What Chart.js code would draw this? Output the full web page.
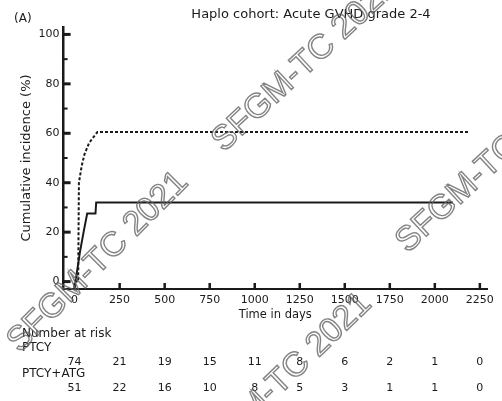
<!DOCTYPE html>
<html>
<head>
<meta charset="utf-8">
<script src="https://cdn.jsdelivr.net/npm/chart.js@4.4.0/dist/chart.umd.min.js"></script>
<style>
    html, body { margin: 0; padding: 0; background: #fff; }
    #wrap { width: 502px; height: 401px; }
</style>
</head>
<body>
<div id="wrap"><canvas id="gvhdChart" width="502" height="401"></canvas></div>
<script>
// Courbes d'incidence cumulée (jours / %)
const daysPtcy = [0, 20, 22, 24, 40, 55, 80, 100, 127, 2195];
const incPtcy = [0, 0, 20, 40, 47, 51.5, 56, 58, 60.5, 60.5];
const daysAtg = [0, 5, 30, 50, 70, 116, 120, 2100];
const incAtg = [0, 0, 12, 20, 27.5, 27.5, 32, 32];

// Graduations
const xTicks = [0, 250, 500, 750, 1000, 1250, 1500, 1750, 2000, 2250];
const yTicks = [0, 10, 20, 30, 40, 50, 60, 70, 80, 90, 100];

// Nombre de patients à risque
const riskPtcy = [74, 21, 19, 15, 11, 8, 6, 2, 1, 0];
const riskAtg = [51, 22, 16, 10, 8, 5, 3, 1, 1, 0];

const FONT = '"DejaVu Sans", Verdana, sans-serif';
const INK = '#1a1a1a';

// Petits traits vers l'intérieur, titre, tableau et filigrane
const extrasPlugin = {
    id: 'extras',
    afterDraw(chart) {
        const ctx = chart.ctx;
        const xS = chart.scales.x;
        const yS = chart.scales.y;
        ctx.save();
        ctx.fillStyle = INK;

        yS.ticks.forEach(t => {
            const py = yS.getPixelForValue(t.value);
            const major = t.value % 20 === 0;
            ctx.fillRect(yS.right - 1, py - (major ? 1.5 : 1), major ? 8 : 5, major ? 3 : 2);
        });
        xS.ticks.forEach(t => {
            const px = xS.getPixelForValue(t.value);
            ctx.fillRect(px - 1.2, xS.top - 6, 2.5, 6);
        });

        ctx.textBaseline = 'middle';
        ctx.textAlign = 'center';
        ctx.font = '13px ' + FONT;
        ctx.fillText('Haplo cohort: Acute GVHD grade 2-4', 311, 15);
        ctx.textAlign = 'left';
        ctx.font = '12px ' + FONT;
        ctx.fillText('(A)', 14, 19);

        ctx.fillText('Number at risk', 22, 334);
        ctx.fillText('PTCY', 22, 348);
        ctx.fillText('PTCY+ATG', 22, 374);
        ctx.font = '11px ' + FONT;
        ctx.textAlign = 'center';
        xTicks.forEach((v, i) => {
            const px = xS.getPixelForValue(v);
            ctx.fillText(String(riskPtcy[i]), px, 362);
            ctx.fillText(String(riskAtg[i]), px, 388);
        });

        // filigrane
        ctx.strokeStyle = 'rgba(100,100,100,0.8)';
        ctx.lineWidth = 1.4;
        ctx.font = '34px "Liberation Sans", Arial, sans-serif';
        ctx.textAlign = 'center';
        [[98, 262, -45], [305, 64, -43], [280, 382, -44], [489, 165, -43]].forEach(([cx, cy, a]) => {
            ctx.save();
            ctx.translate(cx, cy);
            ctx.rotate(a * Math.PI / 180);
            ctx.strokeText('SFGM-TC 2021', 0, 0);
            ctx.restore();
        });
        ctx.restore();
    }
};

const ctxGvhd = document.getElementById('gvhdChart').getContext('2d');
const gvhdChart = new Chart(ctxGvhd, {
    type: 'line',
    data: {
        datasets: [
            {
                label: 'PTCY',
                data: daysPtcy.map((d, i) => ({ x: d, y: incPtcy[i] })),
                borderColor: INK,
                borderWidth: 2,
                borderDash: [3, 2],
                pointRadius: 0,
                tension: 0
            },
            {
                label: 'PTCY+ATG',
                data: daysAtg.map((d, i) => ({ x: d, y: incAtg[i] })),
                borderColor: INK,
                borderWidth: 2,
                pointRadius: 0,
                tension: 0
            }
        ]
    },
    options: {
        responsive: false,
        animation: false,
        layout: { padding: { left: 19, right: 15, top: 27, bottom: 75 } },
        plugins: {
            legend: { display: false },
            title: { display: false },
            tooltip: { enabled: false }
        },
        scales: {
            x: {
                type: 'linear',
                min: -61,
                max: 2290,
                afterBuildTicks: s => { s.ticks = xTicks.map(v => ({ value: v })); },
                grid: { display: false, drawTicks: false },
                border: { display: true, color: INK, width: 2 },
                ticks: {
                    color: INK,
                    font: { family: FONT, size: 11 },
                    padding: 5,
                    maxRotation: 0,
                    autoSkip: false,
                    callback: v => String(v)
                },
                title: { display: true, text: 'Time in days', color: INK, font: { family: FONT, size: 11.5 }, padding: { top: -4, bottom: 4 } }
            },
            y: {
                min: -3,
                max: 103,
                afterBuildTicks: s => { s.ticks = yTicks.map(v => ({ value: v })); },
                grid: { display: false, drawTicks: false },
                border: { display: true, color: INK, width: 2.5 },
                ticks: {
                    color: INK,
                    font: { family: FONT, size: 11 },
                    padding: 4,
                    autoSkip: false,
                    callback: v => (v % 20 === 0 ? String(v) : '')
                },
                title: { display: true, text: 'Cumulative incidence (%)', color: INK, font: { family: FONT, size: 13 }, padding: { top: 0, bottom: 0 } }
            }
        }
    },
    plugins: [extrasPlugin]
});
</script>
</body>
</html>
